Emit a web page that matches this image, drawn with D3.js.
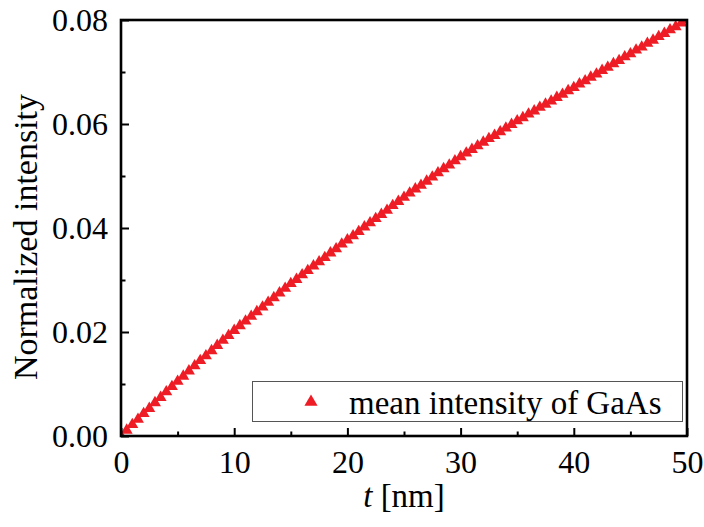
<!DOCTYPE html>
<html>
<head>
<meta charset="utf-8">
<script src="https://cdn.jsdelivr.net/npm/d3@7"></script>
<style>
  body { margin: 0; background: #fff; }
  svg { display: block; }
  text { font-family: "Liberation Serif", "Times New Roman", serif; fill: #000; }
</style>
</head>
<body>
<svg id="chart" width="704" height="527"></svg>
<script>
// ---- data ----
const thickness = [
  0,0.5,1,1.5,2,2.5,3,3.5,4,4.5,5,5.5,6,6.5,7,7.5,8,8.5,9,9.5,
  10,10.5,11,11.5,12,12.5,13,13.5,14,14.5,15,15.5,16,16.5,17,17.5,18,18.5,19,19.5,
  20,20.5,21,21.5,22,22.5,23,23.5,24,24.5,25,25.5,26,26.5,27,27.5,28,28.5,29,29.5,
  30,30.5,31,31.5,32,32.5,33,33.5,34,34.5,35,35.5,36,36.5,37,37.5,38,38.5,39,39.5,
  40,40.5,41,41.5,42,42.5,43,43.5,44,44.5,45,45.5,46,46.5,47,47.5,48,48.5,49,49.5,50
];
const meanIntensity = [
  0,0.0011,0.0022,0.0032,0.0043,0.0053,0.0064,0.0074,0.0085,0.0095,
  0.0105,0.0115,0.0125,0.0135,0.0145,0.0154,0.0164,0.0174,0.0184,0.0193,
  0.0203,0.0212,0.0221,0.0230,0.0239,0.0248,0.0257,0.0266,0.0275,0.0284,
  0.0293,0.0301,0.0310,0.0318,0.0327,0.0335,0.0343,0.0352,0.0360,0.0369,
  0.0377,0.0385,0.0393,0.0402,0.0410,0.0418,0.0426,0.0434,0.0443,0.0451,
  0.0459,0.0467,0.0475,0.0482,0.0490,0.0498,0.0506,0.0514,0.0521,0.0529,
  0.0537,0.0544,0.0551,0.0558,0.0565,0.0572,0.0578,0.0585,0.0592,0.0599,
  0.0606,0.0612,0.0619,0.0625,0.0632,0.0638,0.0644,0.0651,0.0657,0.0664,
  0.0670,0.0677,0.0683,0.0690,0.0696,0.0703,0.0709,0.0716,0.0722,0.0729,
  0.0735,0.0742,0.0748,0.0755,0.0761,0.0768,0.0774,0.0781,0.0787,0.0794,
  0.0800
];
const xTicks = [0,10,20,30,40,50];
const xMinorTicks = [5,15,25,35,45];
const yTicks = [0,0.02,0.04,0.06,0.08];
const yMinorTicks = [0.01,0.03,0.05,0.07];
const seriesName = "mean intensity of GaAs";

// ---- layout ----
const L = 121, R = 687, T = 20, B = 436;
const red = "#ee1c25";
const svg = d3.select("#chart");

const x = d3.scaleLinear().domain([0, 50]).range([L, R]);
const y = d3.scaleLinear().domain([0, 0.08]).range([B, T]);

svg.append("defs").append("clipPath").attr("id", "clip")
  .append("rect").attr("x", L).attr("y", T).attr("width", R - L).attr("height", B - T);

// markers
const tri = d3.symbol().type(d3.symbolTriangle).size(62);
svg.append("g").attr("clip-path", "url(#clip)")
  .selectAll("path").data(thickness.map((t, i) => [t, meanIntensity[i]]))
  .enter().append("path")
  .attr("d", tri)
  .attr("transform", d => `translate(${x(d[0])},${y(d[1])})`)
  .attr("fill", red);

// axes (ticks inward)
const xAxis = d3.axisBottom(x).tickValues(xTicks).tickSize(-8).tickPadding(14).tickFormat(d3.format("d"));
const gx = svg.append("g").attr("transform", `translate(0,${B})`).call(xAxis);
gx.select(".domain").remove();
gx.selectAll(".tick line").attr("stroke", "#000").attr("stroke-width", 2);
gx.selectAll(".tick text").attr("font-size", 32).attr("font-family", "Liberation Serif").attr("dy", "0.72em");

const gxm = svg.append("g").attr("transform", `translate(0,${B})`)
  .call(d3.axisBottom(x).tickValues(xMinorTicks).tickSize(-4.5).tickFormat(""));
gxm.select(".domain").remove();
gxm.selectAll(".tick line").attr("stroke", "#000").attr("stroke-width", 2);

const yAxis = d3.axisLeft(y).tickValues(yTicks).tickSize(-8).tickPadding(13).tickFormat(d3.format(".2f"));
const gy = svg.append("g").attr("transform", `translate(${L},0)`).call(yAxis);
gy.select(".domain").remove();
gy.selectAll(".tick line").attr("stroke", "#000").attr("stroke-width", 2);
gy.selectAll(".tick text").attr("font-size", 32).attr("font-family", "Liberation Serif");

const gym = svg.append("g").attr("transform", `translate(${L},0)`)
  .call(d3.axisLeft(y).tickValues(yMinorTicks).tickSize(-4.5).tickFormat(""));
gym.select(".domain").remove();
gym.selectAll(".tick line").attr("stroke", "#000").attr("stroke-width", 2);

// frame
svg.append("rect").attr("x", L).attr("y", T).attr("width", R - L).attr("height", B - T)
  .attr("fill", "none").attr("stroke", "#000").attr("stroke-width", 2.6);

// legend
svg.append("rect").attr("x", 252.5).attr("y", 381.5).attr("width", 430).attr("height", 40)
  .attr("fill", "#fff").attr("stroke", "#555").attr("stroke-width", 1);
svg.append("path").attr("d", d3.symbol().type(d3.symbolTriangle).size(75))
  .attr("transform", "translate(311,402)").attr("fill", red);
svg.append("text").attr("x", 349).attr("y", 414).attr("font-size", 33).text(seriesName);

// axis titles
const xt = svg.append("text").attr("x", 404).attr("y", 507).attr("text-anchor", "middle").attr("font-size", 33);
xt.append("tspan").attr("font-style", "italic").text("t");
xt.append("tspan").text(" [nm]");

svg.append("text").attr("transform", "translate(37,237) rotate(-90)")
  .attr("text-anchor", "middle").attr("font-size", 34).text("Normalized intensity");
</script>
</body>
</html>
